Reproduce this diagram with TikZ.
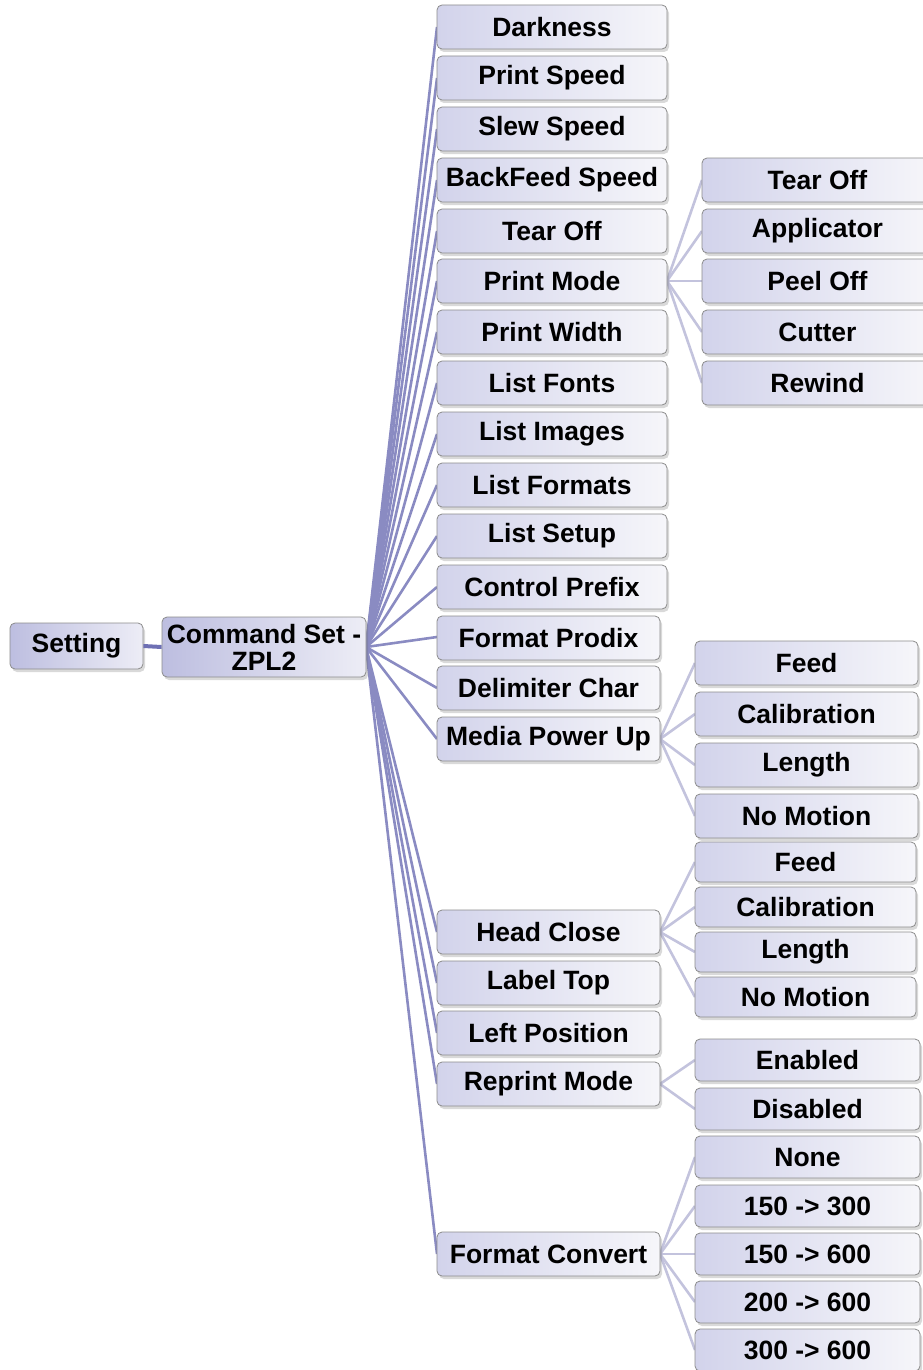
\documentclass[tikz,border=0pt]{standalone}
\usepackage{fontspec}
\setmainfont{Liberation Sans}
\usetikzlibrary{shadows}
\definecolor{bordc}{HTML}{8C8C8C}
\definecolor{lvA}{HTML}{D2D3EB}
\definecolor{lvB}{HTML}{F6F6FA}
\definecolor{rtA}{HTML}{BDBEE0}
\definecolor{rtB}{HTML}{EDEDF6}
\definecolor{ln1}{HTML}{8A8BC2}
\definecolor{ln2}{HTML}{C3C3DD}
\definecolor{ln0}{HTML}{6E70B4}
\tikzset{
  box/.style={draw=bordc, line width=0.8pt, rounded corners=5pt, left color=lvA, right color=lvB,
    inner sep=0pt, font=\fontsize{26.5}{27}\selectfont\bfseries, align=center,
    drop shadow={shadow xshift=2pt, shadow yshift=-3pt, opacity=0.25, fill=black!60}},
  rootbox/.style={box, left color=rtA, right color=rtB},
  con1/.style={draw=ln1, line width=2.6pt},
  con2/.style={draw=ln2, line width=2.6pt},
  con0/.style={draw=ln0, line width=4pt}
}
\newcommand{\bx}[7][box]{\node[#1, minimum width=#5pt, minimum height=#6pt] (#2) at (#3pt,-#4pt) {#7};}
\begin{document}
\begin{tikzpicture}[x=1pt,y=1pt]
\useasboundingbox (0,0) rectangle (923,-1370);
% connectors first (behind)
\coordinate (croot) at (366,-647);
\foreach \y in {27,78,129,180,231,281,332,383,434,485,536,587,637,688,739,932,983,1033,1084,1254}{
  \draw[con1] (croot) -- (437,-\y);
}
\foreach \y in {180,231,281,332,383}{ \draw[con2] (667,-281) -- (702,-\y); }
\foreach \y in {663,714,765,816}{ \draw[con2] (660,-739) -- (695,-\y); }
\foreach \y in {862,907,952,997}{ \draw[con2] (660,-932) -- (695,-\y); }
\foreach \y in {1060,1109}{ \draw[con2] (660,-1084) -- (695,-\y); }
\foreach \y in {1157,1206,1254,1302,1350}{ \draw[con2] (660,-1254) -- (695,-\y); }
\bx[rootbox]{set}{76.5}{646}{133}{46}{Setting}
\bx[rootbox]{cmd}{264}{647}{204}{60}{Command Set -\\ZPL2}
\draw[con0] (set.east) -- (cmd.west);
% level 2
\bx{dark}{552}{27}{230}{44}{Darkness}
\bx{psp}{552}{78}{230}{44}{Print Speed}
\bx{ssp}{552}{129}{230}{44}{Slew Speed}
\bx{bfs}{552}{180}{230}{44}{BackFeed Speed}
\bx{tof}{552}{231}{230}{44}{Tear Off}
\bx{pm}{552}{281}{230}{44}{Print Mode}
\bx{pw}{552}{332}{230}{44}{Print Width}
\bx{lf}{552}{383}{230}{44}{List Fonts}
\bx{li}{552}{434}{230}{44}{List Images}
\bx{lfo}{552}{485}{230}{44}{List Formats}
\bx{ls}{552}{536}{230}{44}{List Setup}
\bx{cp}{552}{587}{230}{44}{Control Prefix}
\bx{fp}{548.5}{638}{223}{44}{Format Prodix}
\bx{dc}{548.5}{688}{223}{44}{Delimiter Char}
\bx{mpu}{548.5}{739}{223}{44}{Media Power Up}
\bx{hc}{548.5}{932}{223}{44}{Head Close}
\bx{lt}{548.5}{983}{223}{44}{Label Top}
\bx{lp}{548.5}{1033}{223}{44}{Left Position}
\bx{rm}{548.5}{1084}{223}{44}{Reprint Mode}
\bx{fc}{548.5}{1254}{223}{44}{Format Convert}
% Print mode children
\bx{pm1}{817.5}{180}{231}{44}{Tear Off}
\bx{pm2}{817.5}{231}{231}{44}{Applicator}
\bx{pm3}{817.5}{281}{231}{44}{Peel Off}
\bx{pm4}{817.5}{332}{231}{44}{Cutter}
\bx{pm5}{817.5}{383}{231}{44}{Rewind}
% MPU children
\bx{mp1}{806.5}{663}{223}{44}{Feed}
\bx{mp2}{806.5}{714}{223}{44}{Calibration}
\bx{mp3}{806.5}{765}{223}{44}{Length}
\bx{mp4}{806.5}{816}{223}{44}{No Motion}
% Head close children
\bx{hc1}{805.5}{862}{221}{40}{Feed}
\bx{hc2}{805.5}{907}{221}{40}{Calibration}
\bx{hc3}{805.5}{952}{221}{40}{Length}
\bx{hc4}{805.5}{997}{221}{40}{No Motion}
% Reprint children
\bx{rm1}{807.5}{1060}{225}{42}{Enabled}
\bx{rm2}{807.5}{1109}{225}{42}{Disabled}
% Format convert children
\bx{fc1}{807.5}{1157}{225}{42}{None}
\bx{fc2}{807.5}{1206}{225}{42}{150 -> 300}
\bx{fc3}{807.5}{1254}{225}{42}{150 -> 600}
\bx{fc4}{807.5}{1302}{225}{42}{200 -> 600}
\bx{fc5}{807.5}{1350}{225}{42}{300 -> 600}
\end{tikzpicture}
\end{document}
